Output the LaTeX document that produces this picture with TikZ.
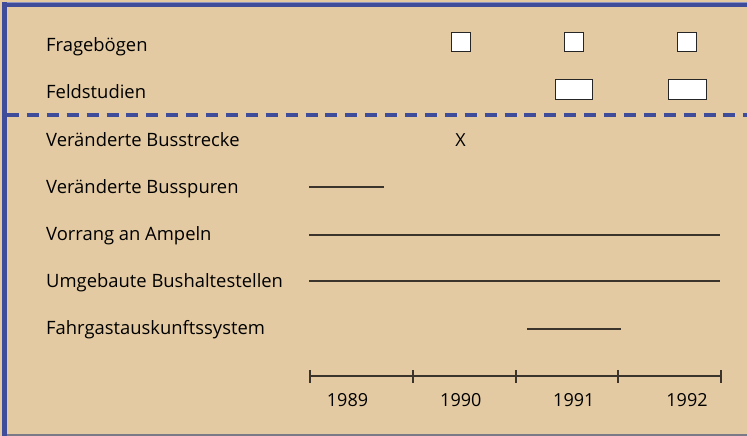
\documentclass[tikz,border=0pt]{standalone}
\usepackage{fontspec}
\setmainfont{Open Sans}
\definecolor{bgbeige}{HTML}{E3CAA2}
\definecolor{frameblue}{HTML}{3E4C9A}
\definecolor{inkdark}{HTML}{3B342C}
\definecolor{edgegray}{HTML}{7A7A86}
\tikzset{
  rowlabel/.style={anchor=base west, inner sep=0pt, font=\fontsize{18.4}{21}\selectfont, text=black},
  yearlabel/.style={anchor=base, inner sep=0pt, font=\fontsize{18}{21}\selectfont, text=black},
  markbox/.style={draw=black!85, fill=white, line width=1pt, inner sep=0pt, minimum height=19pt},
  period/.style={draw=inkdark, line width=2pt},
  axisline/.style={draw=inkdark, line width=1.5pt},
  tickline/.style={draw=inkdark, line width=2pt},
}
\begin{document}
\begin{tikzpicture}[x=1pt, y=-1pt]
  \useasboundingbox (0,0) rectangle (747,436);
  % background and frame
  \fill[bgbeige] (0,0) rectangle (747,436);
  \fill[frameblue!60] (2,2) rectangle (747,3.5);
  \fill[frameblue] (2,3.5) rectangle (747,7);
  \fill[frameblue] (2,2) rectangle (7,436);
  \fill[edgegray] (7,434) rectangle (747,436);

  % separator between survey methods and measures
  \draw[frameblue, line width=3.6pt, dash pattern=on 12pt off 7.9pt] (7,115) -- (747,115);

  % row labels
  \node[rowlabel] (fb) at (46,52) {Fragebögen};
  \node[rowlabel] (fs) at (46,99) {Feldstudien};
  \node[rowlabel] (vb) at (46,146) {Veränderte Busstrecke};
  \node[rowlabel] (vs) at (46,193.5) {Veränderte Busspuren};
  \node[rowlabel] (va) at (46,240.5) {Vorrang an Ampeln};
  \node[rowlabel] (ub) at (46,287.5) {Umgebaute Bushaltestellen};
  \node[rowlabel] (fa) at (46,334) {Fahrgastauskunftssystem};

  % questionnaires
  \node[markbox, minimum width=19pt] (fb90) at (460.5,42.5) {};
  \node[markbox, minimum width=19pt] (fb91) at (573.5,42.5) {};
  \node[markbox, minimum width=19pt] (fb92) at (686.5,42.5) {};
  % field studies
  \node[markbox, minimum width=37pt] (fs91) at (573.5,89.5) {};
  \node[markbox, minimum width=38pt] (fs92) at (687,89.5) {};

  % route change
  \node[yearlabel] (vbx) at (460.5,146) {X};

  % durations of the measures
  \coordinate (vsA) at (309,187); \coordinate (vsB) at (384,187);
  \coordinate (vaA) at (309,235); \coordinate (vaB) at (720,235);
  \coordinate (ubA) at (309,281); \coordinate (ubB) at (720,281);
  \coordinate (faA) at (527,329); \coordinate (faB) at (621,329);
  \draw[period] (vsA) -- (vsB);
  \draw[period] (vaA) -- (vaB);
  \draw[period] (ubA) -- (ubB);
  \draw[period] (faA) -- (faB);

  % time axis
  \coordinate (t0) at (310,376);
  \coordinate (t1) at (413,376);
  \coordinate (t2) at (516,376);
  \coordinate (t3) at (618,376);
  \coordinate (t4) at (721,376);
  \draw[axisline] (t0) -- (t4);
  \foreach \t in {t0,t1,t2,t3,t4}
    \draw[tickline] ([yshift=-6.5pt]\t) -- ([yshift=6.5pt]\t);
  \node[yearlabel] (y89) at (347.5,406) {1989};
  \node[yearlabel] (y90) at (460.8,406) {1990};
  \node[yearlabel] (y91) at (573.8,406) {1991};
  \node[yearlabel] (y92) at (687,406) {1992};
\end{tikzpicture}
\end{document}
